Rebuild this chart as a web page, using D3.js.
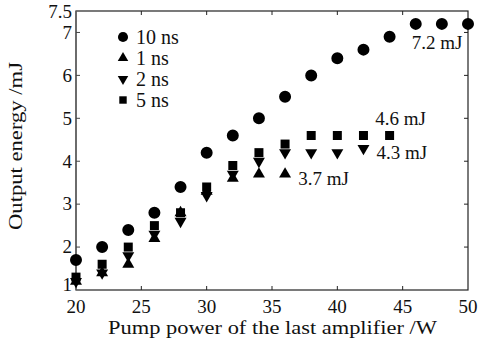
<!DOCTYPE html>
<html>
<head>
<meta charset="utf-8">
<script src="https://cdn.jsdelivr.net/npm/d3@7"></script>
<style>
  body { margin: 0; background: #fff; }
  svg { display: block; }
  svg text { font-family: "Liberation Serif", "Times New Roman", serif; fill: #111; }
</style>
</head>
<body>
<script>
// pump power (W) and output energy (mJ) per pulse width
const power10 = [20, 22, 24, 26, 28, 30, 32, 34, 36, 38, 40, 42, 44, 46, 48, 50];
const energy10 = [1.7, 2.0, 2.4, 2.8, 3.4, 4.2, 4.6, 5.0, 5.5, 6.0, 6.4, 6.6, 6.9, 7.2, 7.2, 7.2];
const power1 = [20, 22, 24, 26, 28, 30, 32, 34, 36];
const energy1 = [1.2, 1.4, 1.6, 2.2, 2.8, 3.3, 3.6, 3.7, 3.7];
const power2 = [20, 22, 24, 26, 28, 30, 32, 34, 36, 38, 40, 42];
const energy2 = [1.2, 1.4, 1.8, 2.3, 2.6, 3.2, 3.7, 4.0, 4.2, 4.2, 4.2, 4.3];
const power5 = [20, 22, 24, 26, 28, 30, 32, 34, 36, 38, 40, 42, 44];
const energy5 = [1.3, 1.6, 2.0, 2.5, 2.8, 3.4, 3.9, 4.2, 4.4, 4.6, 4.6, 4.6, 4.6];

const xTicks = [20, 25, 30, 35, 40, 45, 50];
const yTicks = [1, 2, 3, 4, 5, 6, 7, 7.5];

// annotations: [x, y, text]
const notes = [
  [45.7, 6.75, "7.2 mJ"],
  [42.9, 5.0, "4.6 mJ"],
  [43.0, 4.2, "4.3 mJ"],
  [37.0, 3.6, "3.7 mJ"]
];

const width = 484, height = 342;
const margin = { top: 11, right: 16, bottom: 52, left: 76 };

const x = d3.scaleLinear().domain([20, 50]).range([margin.left, width - margin.right]);
const y = d3.scaleLinear().domain([1, 7.5]).range([height - margin.bottom, margin.top]);

const svg = d3.select("body").append("svg")
  .attr("width", width)
  .attr("height", height);

const tickLen = 4;

// frame
svg.append("rect")
  .attr("x", x(20)).attr("y", y(7.5))
  .attr("width", x(50) - x(20)).attr("height", y(1) - y(7.5))
  .attr("fill", "none").attr("stroke", "#222").attr("stroke-width", 1.2);
svg.append("line")
  .attr("x1", x(20)).attr("x2", x(20)).attr("y1", y(7.5)).attr("y2", y(1))
  .attr("stroke", "#666").attr("stroke-width", 1.4);

// inward ticks
const inner = xTicks.filter(d => d > 20 && d < 50);
svg.append("g").selectAll("line").data(inner).join("line")
  .attr("x1", d => x(d)).attr("x2", d => x(d))
  .attr("y1", y(1)).attr("y2", y(1) - tickLen)
  .attr("stroke", "#222");
svg.append("g").selectAll("line").data(inner).join("line")
  .attr("x1", d => x(d)).attr("x2", d => x(d))
  .attr("y1", y(7.5)).attr("y2", y(7.5) + tickLen)
  .attr("stroke", "#222");
const innerY = yTicks.filter(d => d > 1 && d < 7.5);
svg.append("g").selectAll("line").data(innerY).join("line")
  .attr("x1", x(20)).attr("x2", x(20) + tickLen)
  .attr("y1", d => y(d)).attr("y2", d => y(d))
  .attr("stroke", "#444");
svg.append("g").selectAll("line").data(innerY).join("line")
  .attr("x1", x(50)).attr("x2", x(50) - tickLen)
  .attr("y1", d => y(d)).attr("y2", d => y(d))
  .attr("stroke", "#222");

// tick labels
svg.append("g").selectAll("text").data(xTicks).join("text")
  .attr("x", d => x(d)).attr("y", y(1) + 23)
  .attr("text-anchor", "middle")
  .attr("font-size", 19)
  .text(d => d);
svg.append("g").selectAll("text").data(yTicks).join("text")
  .attr("x", x(20) - 4).attr("y", d => y(d))
  .attr("dy", d => d === 7.5 ? "0.36em" : d === 1 ? "0.05em" : "0.33em")
  .attr("text-anchor", "end")
  .attr("font-size", 19)
  .text(d => d);

// axis titles
svg.append("text")
  .attr("x", 108).attr("y", height - 8)
  .attr("font-size", 19)
  .attr("textLength", 329)
  .attr("lengthAdjust", "spacingAndGlyphs")
  .text("Pump power of the last amplifier /W");
svg.append("text")
  .attr("transform", `translate(22,230) rotate(-90)`)
  .attr("font-size", 19)
  .attr("textLength", 168)
  .attr("lengthAdjust", "spacingAndGlyphs")
  .text("Output energy /mJ");

// series
const series = [
  { name: "10 ns", xs: power10, ys: energy10, type: d3.symbolCircle, size: 113, rot: 0 },
  { name: "1 ns", xs: power1, ys: energy1, type: d3.symbolTriangle, size: 62, rot: 0 },
  { name: "2 ns", xs: power2, ys: energy2, type: d3.symbolTriangle, size: 62, rot: 180 },
  { name: "5 ns", xs: power5, ys: energy5, type: d3.symbolSquare, size: 81, rot: 0 }
];

series.forEach(s => {
  const sym = d3.symbol().type(s.type).size(s.size);
  svg.append("g").selectAll("path").data(s.xs.map((v, i) => [v, s.ys[i]])).join("path")
    .attr("d", sym)
    .attr("transform", d => `translate(${x(d[0])},${y(d[1])}) rotate(${s.rot})`)
    .attr("fill", "#000");
});

// legend
const legend = svg.append("g");
series.forEach((s, i) => {
  const ly = 37 + i * 21;
  const lsize = s.type === d3.symbolCircle ? 80 : s.type === d3.symbolSquare ? 55 : 48;
  legend.append("path")
    .attr("d", d3.symbol().type(s.type).size(lsize))
    .attr("transform", `translate(123,${ly}) rotate(${s.rot})`)
    .attr("fill", "#000");
  legend.append("text")
    .attr("x", 136).attr("y", ly).attr("dy", "0.33em")
    .attr("font-size", 20)
    .text(s.name);
});

// annotations
svg.append("g").selectAll("text").data(notes).join("text")
  .attr("x", d => x(d[0])).attr("y", d => y(d[1]))
  .attr("dy", "0.33em")
  .attr("font-size", 19)
  .text(d => d[2]);
</script>
</body>
</html>
